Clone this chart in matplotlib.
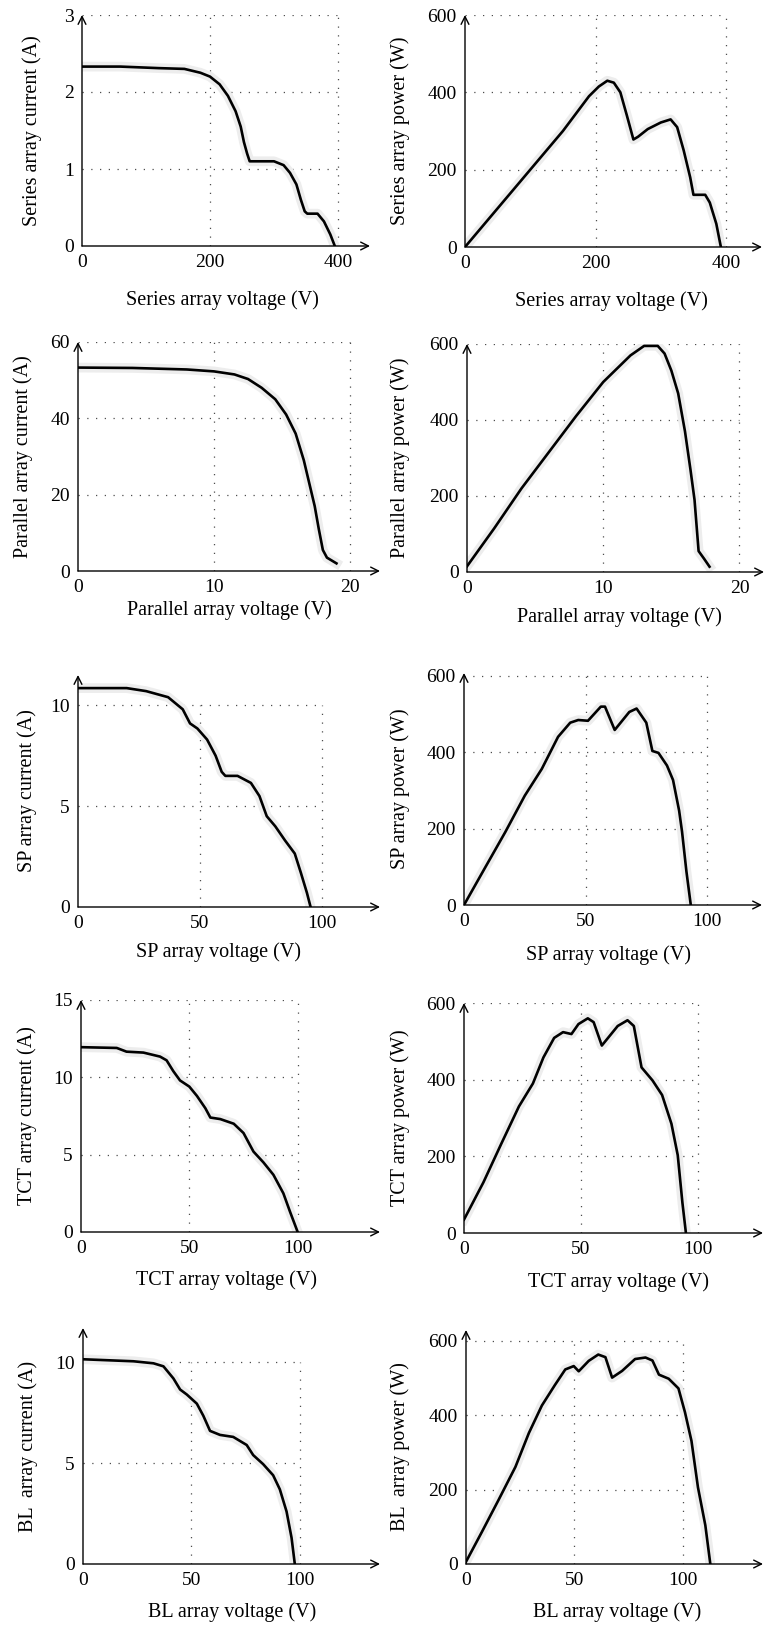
import matplotlib
matplotlib.use("Agg")
import matplotlib.pyplot as plt
from matplotlib import rcParams

rcParams.update({
    "font.family": ["Liberation Serif", "DejaVu Serif"],
    "font.size": 14,
})

W, H = 764, 1625

# ---- data ----
series_iv_v = [0, 60, 120, 160, 185, 200, 215, 228, 240, 248, 253, 258, 262, 300, 315, 325, 335, 342, 348, 352, 368, 378, 388, 395]
series_iv_i = [2.33, 2.33, 2.31, 2.30, 2.25, 2.20, 2.10, 1.95, 1.75, 1.55, 1.35, 1.20, 1.10, 1.10, 1.05, 0.95, 0.80, 0.60, 0.45, 0.42, 0.42, 0.32, 0.15, 0.0]
series_pv_v = [0, 50, 100, 150, 190, 205, 218, 228, 238, 248, 258, 265, 280, 300, 315, 325, 335, 345, 350, 368, 375, 385, 392]
series_pv_p = [0, 100, 200, 300, 390, 415, 430, 425, 400, 340, 278, 285, 305, 322, 330, 310, 250, 180, 135, 135, 115, 60, 0]

parallel_iv_v = [0, 4, 8, 10, 11.5, 12.5, 13.5, 14.5, 15.3, 16.0, 16.6, 17.0, 17.4, 17.7, 18.0, 18.3, 19.0]
parallel_iv_i = [53.3, 53.2, 52.8, 52.3, 51.5, 50.3, 48.0, 45.0, 41.0, 36.0, 29.0, 23.0, 17.0, 11.0, 5.5, 3.5, 2.0]
parallel_pv_v = [0, 2, 4, 6, 8, 10, 12, 13, 14, 14.5, 15, 15.5, 16, 16.4, 16.7, 16.9, 17.0, 17.4, 17.8]
parallel_pv_p = [15, 115, 220, 315, 410, 500, 570, 595, 595, 575, 530, 470, 370, 270, 190, 100, 55, 35, 14]

sp_iv_v = [0, 20, 28, 37, 43, 46, 49, 53, 56.5, 59, 60.5, 65.5, 71, 74.5, 77.5, 81, 85, 89, 91.5, 94, 95.5]
sp_iv_i = [10.85, 10.85, 10.7, 10.4, 9.8, 9.1, 8.85, 8.3, 7.5, 6.7, 6.5, 6.5, 6.15, 5.5, 4.5, 4.0, 3.3, 2.65, 1.7, 0.7, 0.0]
sp_pv_v = [0, 8.7, 17, 25, 32, 38.7, 43.7, 47, 51, 56.3, 58, 62, 68, 71, 75, 77.5, 80, 83.5, 86, 88.5, 89.7, 91.5, 93.3]
sp_pv_p = [0, 98, 191, 286, 356, 440, 477, 484, 482, 519, 519, 458, 505, 514, 477, 403, 398, 365, 327, 247, 192, 88, 0]

tct_iv_v = [0, 16.5, 21, 28.8, 36.5, 39.5, 42.6, 45.7, 50, 53.5, 57.4, 59.7, 64.3, 70.5, 75, 79.6, 84.2, 88.8, 93.4, 96.5, 100]
tct_iv_i = [11.95, 11.9, 11.66, 11.6, 11.34, 11.1, 10.4, 9.8, 9.4, 8.8, 8.0, 7.4, 7.3, 7.0, 6.4, 5.2, 4.5, 3.7, 2.5, 1.3, 0.0]
tct_pv_v = [0, 8.3, 15.9, 23.5, 29.5, 34, 38.6, 42.4, 46, 49, 53, 55.5, 59, 65.8, 70, 72.7, 76, 80.7, 84.8, 88.8, 91.5, 93.5, 95]
tct_pv_p = [35, 132, 232, 330, 390, 458, 509, 524, 519, 545, 560, 550, 489, 540, 555, 540, 432, 398, 360, 285, 203, 79, 0]

bl_iv_v = [0, 23.3, 32.5, 37.1, 41.7, 44.8, 47.9, 52.5, 55.5, 58.6, 63.2, 69.3, 75.5, 78.5, 83.1, 87.7, 90.8, 93.9, 96.2, 97.7]
bl_iv_i = [10.15, 10.05, 9.95, 9.8, 9.2, 8.65, 8.4, 7.95, 7.35, 6.6, 6.4, 6.3, 5.9, 5.4, 4.95, 4.4, 3.7, 2.6, 1.3, 0.0]
bl_pv_v = [0, 7.4, 15, 22.8, 29, 35, 41, 45.8, 49.7, 52, 56.6, 61, 64.3, 67.4, 72, 78, 82.8, 86, 89, 93.5, 98, 101, 104, 107, 110.4, 112.7]
bl_pv_p = [6, 87, 172, 261, 352, 426, 481, 523, 532, 518, 546, 563, 556, 501, 519, 551, 555, 547, 509, 498, 472, 408, 331, 206, 104, 0]

series_xticks = [0, 200, 400]
parallel_xticks = [0, 10, 20]
mixed_xticks = [0, 50, 100]
series_iticks = [0, 1, 2, 3]
parallel_iticks = [0, 20, 40, 60]
sp_iticks = [0, 5, 10]
tct_iticks = [0, 5, 10, 15]
bl_iticks = [0, 5, 10]
power_ticks = [0, 200, 400, 600]

fig = plt.figure(figsize=(W / 100, H / 100), dpi=100)


def panel(box, lims, v, y, xticks, yticks, xlabel, ylabel, ylab_px, xlab_px):
    # box in pixels: x of y-axis, y of x-axis, right arrow end, top arrow end
    x0, y0, xr, yt = box
    ax = fig.add_axes([x0 / W, 1 - y0 / H, (xr - x0) / W, (y0 - yt) / H])
    ax.set_xlim(0, lims[0])
    ax.set_ylim(0, lims[1])
    for s in ax.spines.values():
        s.set_visible(False)
    ax.patch.set_visible(False)

    dots = (0, (1, 6))
    ax.vlines(xticks[1:], 0, yticks[-1], colors="0.3", linestyles=dots, lw=0.9, zorder=1)
    ax.hlines(yticks[1:], 0, xticks[-1], colors="0.3", linestyles=dots, lw=0.9, zorder=1)

    ax.plot(v, y, color="0.93", lw=7, zorder=2)
    ax.plot(v, y, color="black", lw=1.9, zorder=3)

    arrow = dict(arrowstyle="->", lw=1.0, color="black", shrinkA=0, shrinkB=0, mutation_scale=14)
    ax.annotate("", xy=(1, 0), xytext=(0, 0), xycoords="axes fraction",
                arrowprops=arrow, annotation_clip=False)
    ax.annotate("", xy=(0, 1), xytext=(0, 0), xycoords="axes fraction",
                arrowprops=arrow, annotation_clip=False)

    ax.set_xticks(xticks)
    ax.set_yticks(yticks)
    ax.tick_params(length=0, pad=6, labelsize=14)

    ax.set_xlabel(xlabel, fontsize=14.5)
    ax.set_ylabel(ylabel, fontsize=14.5)
    w = xr - x0
    h = y0 - yt
    ax.yaxis.set_label_coords((ylab_px - x0) / w, 0.5)
    ax.xaxis.set_label_coords((xlab_px[0] - x0) / w, -xlab_px[1] / h)
    return ax


panel((82, 246, 370, 15), (450, 3.0), series_iv_v, series_iv_i, series_xticks, series_iticks,
      "Series array voltage (V)", "Series array current (A)", 42, (222, 44))
panel((465, 247, 762, 15), (455, 600), series_pv_v, series_pv_p, series_xticks, power_ticks,
      "Series array voltage (V)", "Series array power (W)", 410, (611, 44))

panel((78, 571, 380, 342), (22.2, 60), parallel_iv_v, parallel_iv_i, parallel_xticks, parallel_iticks,
      "Parallel array voltage (V)", "Parallel array current (A)", 33, (229, 29))
panel((467, 572, 764, 344), (21.8, 600), parallel_pv_v, parallel_pv_p, parallel_xticks, power_ticks,
      "Parallel array voltage (V)", "Parallel array power (W)", 410, (619, 35))

panel((78, 907, 380, 675), (124, 11.5), sp_iv_v, sp_iv_i, mixed_xticks, sp_iticks,
      "SP array voltage (V)", "SP array current (A)", 37, (218, 35))
panel((464, 905, 762, 673), (122.6, 607), sp_pv_v, sp_pv_p, mixed_xticks, power_ticks,
      "SP array voltage (V)", "SP array power (W)", 410, (608, 40))

panel((81, 1232, 380, 1000), (138, 15), tct_iv_v, tct_iv_i, mixed_xticks, tct_iticks,
      "TCT array voltage (V)", "TCT array current (A)", 37, (226, 38))
panel((464, 1233, 763, 1003), (128, 600), tct_pv_v, tct_pv_p, mixed_xticks, power_ticks,
      "TCT array voltage (V)", "TCT array power (W)", 410, (619, 39))

panel((83, 1564, 380, 1328), (137, 11.7), bl_iv_v, bl_iv_i, mixed_xticks, bl_iticks,
      "BL array voltage (V)", "BL  array current (A)", 38, (232, 38))
panel((466, 1564, 763, 1330), (137, 629), bl_pv_v, bl_pv_p, mixed_xticks, power_ticks,
      "BL array voltage (V)", "BL  array power (W)", 410, (617, 38))

fig.savefig("out.png", dpi=100, facecolor="white")
